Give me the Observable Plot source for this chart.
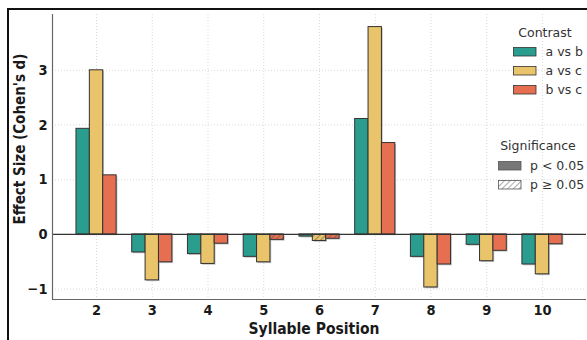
<!DOCTYPE html>
<html><head><meta charset="utf-8">
<script src="https://cdn.jsdelivr.net/npm/d3@7"></script>
<script src="https://cdn.jsdelivr.net/npm/@observablehq/plot@0.6"></script>
<style>
body{margin:0;background:#fff;}
#wrap{position:relative;width:587px;height:340px;overflow:hidden;font-family:"DejaVu Sans",sans-serif;background:#fff;}
#wrap svg.plot{position:absolute;left:0;top:0;}
#frameTop{position:absolute;left:7px;top:8px;width:600px;height:2px;background:#111;}
#frameLeft{position:absolute;left:7px;top:8px;width:2px;height:400px;background:#111;}
#legend{position:absolute;left:0;top:0;}
</style></head><body><div id="wrap"><div id="frameTop"></div><div id="frameLeft"></div></div>
<script>
const positions = [2, 3, 4, 5, 6, 7, 8, 9, 10];
const contrasts = ["a vs b", "a vs c", "b vs c"];
const colors = ["#2a9d8f", "#e9c46a", "#e76f51"];
const abValues = [1.93, -0.33, -0.36, -0.41, -0.04, 2.11, -0.41, -0.19, -0.55];
const acValues = [3.00, -0.84, -0.54, -0.51, -0.12, 3.79, -0.97, -0.49, -0.73];
const bcValues = [1.08, -0.51, -0.17, -0.10, -0.08, 1.67, -0.55, -0.30, -0.18];
const abSig = [1, 1, 1, 1, 0, 1, 1, 1, 1];
const acSig = [1, 1, 1, 1, 0, 1, 1, 1, 1];
const bcSig = [1, 1, 1, 0, 0, 1, 1, 1, 1];
const yTicks = [-1, 0, 1, 2, 3];
const sigLabels = ["p < 0.05", "p \u2265 0.05"];
const xLabel = "Syllable Position";
const yLabel = "Effect Size (Cohen's d)";

const barW = 0.24;
const series = [abValues, acValues, bcValues];
const sigs = [abSig, acSig, bcSig];
const data = [];
positions.forEach((p, i) => {
  contrasts.forEach((c, k) => {
    data.push({pos: p, k, contrast: c, value: series[k][i], sig: sigs[k][i]});
  });
});
const fillOf = d => d.sig ? colors[d.k] : `url(#hatch${d.k})`;
const x1 = d => d.pos + (d.k - 1.5) * barW;
const x2 = d => d.pos + (d.k - 0.5) * barW;
const boldFont = "DejaVu Sans Condensed";

const chart = Plot.plot({
  width: 587,
  height: 340,
  marginLeft: 52,
  marginTop: 14,
  marginBottom: 41,
  marginRight: 1,
  style: {fontFamily: "DejaVu Sans, sans-serif", background: "transparent", overflow: "visible"},
  x: {domain: [1.21, 10.79]},
  y: {domain: [-1.19, 4.02]},
  color: {type: "identity"},
  marks: [
    Plot.gridX(positions, {stroke: "#cfcfcf", strokeOpacity: 0.8, strokeDasharray: "1,2"}),
    Plot.gridY(yTicks, {stroke: "#cfcfcf", strokeOpacity: 0.8, strokeDasharray: "1,2"}),
    Plot.rect(data, {x1, x2, y1: d => 0, y2: "value", fill: "#777", fillOpacity: 0.45, dx: 1.3, dy: 1.3}),
    Plot.rect(data, {x1, x2, y1: d => 0, y2: "value", fill: fillOf, stroke: "#333", strokeWidth: 1}),
    Plot.ruleY([0], {stroke: "#333", strokeWidth: 1.2}),
    Plot.ruleX([1.21], {stroke: "#666", strokeWidth: 1.2}),
    Plot.ruleY([-1.19], {stroke: "#666", strokeWidth: 1.2}),
    Plot.axisX(positions, {tickSize: 0, tickPadding: 5, fontSize: 14.5, fontWeight: "bold", fill: "#1a1a1a",
      fontFamily: boldFont, label: null, tickFormat: d => String(d)}),
    Plot.axisY(yTicks, {tickSize: 0, tickPadding: 5, fontSize: 14.5, fontWeight: "bold", fill: "#1a1a1a",
      fontFamily: boldFont, label: null,
      tickFormat: d => d < 0 ? "\u2212" + Math.abs(d) : String(d)})
  ]
});
chart.classList.add("plot");

// hatch patterns
const svg = d3.select(chart);
const defs = svg.insert("defs", ":first-child");
colors.concat(["#ffffff"]).forEach((c, k) => {
  const pat = defs.append("pattern").attr("id", k < 3 ? `hatch${k}` : "hatchLegend")
    .attr("patternUnits", "userSpaceOnUse").attr("width", 4).attr("height", 4)
    .attr("patternTransform", "rotate(45)");
  pat.append("rect").attr("width", 4).attr("height", 4).attr("fill", c);
  pat.append("line").attr("x1", 0).attr("y1", 0).attr("x2", 0).attr("y2", 4)
    .attr("stroke", k < 3 ? "#555" : "#666").attr("stroke-width", 1.1);
});

// axis titles
svg.append("text").attr("x", 314).attr("y", 329).attr("dy", "0.35em").attr("text-anchor", "middle")
  .attr("font-family", boldFont).attr("font-weight", "bold").attr("font-size", 15.5).attr("fill", "#1a1a1a").text(xLabel);
svg.append("text").attr("transform", "translate(20,139) rotate(-90)").attr("dy", "0.35em").attr("text-anchor", "middle")
  .attr("font-family", boldFont).attr("font-weight", "bold").attr("font-size", 15).attr("fill", "#1a1a1a").text(yLabel);

document.getElementById("wrap").appendChild(chart);

// legend overlay
const leg = d3.select("#wrap").append("svg").attr("id", "legend").attr("width", 587).attr("height", 340)
  .style("font-family", "DejaVu Sans, sans-serif");
leg.append("text").attr("x", 545).attr("y", 37).attr("text-anchor", "middle").attr("font-size", 12.5).attr("fill", "#333").text("Contrast");
contrasts.forEach((c, k) => {
  const y = 47.5 + k * 19;
  leg.append("rect").attr("x", 513.5).attr("y", y).attr("width", 22.5).attr("height", 8.5)
    .attr("fill", colors[k]).attr("stroke", "#333").attr("stroke-width", 0.8);
  leg.append("text").attr("x", 545.5).attr("y", y + 4.5).attr("dy", "0.35em").attr("font-size", 12.5).attr("fill", "#333").text(c);
});
leg.append("text").attr("x", 538).attr("y", 150).attr("text-anchor", "middle").attr("font-size", 12.5).attr("fill", "#333").text("Significance");
sigLabels.forEach((s, k) => {
  const y = 161.5 + k * 19;
  leg.append("rect").attr("x", 498.5).attr("y", y).attr("width", 22.5).attr("height", 8.5)
    .attr("fill", k === 0 ? "#777" : "url(#hatchLegend)").attr("stroke", "#555").attr("stroke-width", 0.8);
  leg.append("text").attr("x", 530).attr("y", y + 4.5).attr("dy", "0.35em").attr("font-size", 12.5).attr("fill", "#333").text(s);
});
</script></body></html>
